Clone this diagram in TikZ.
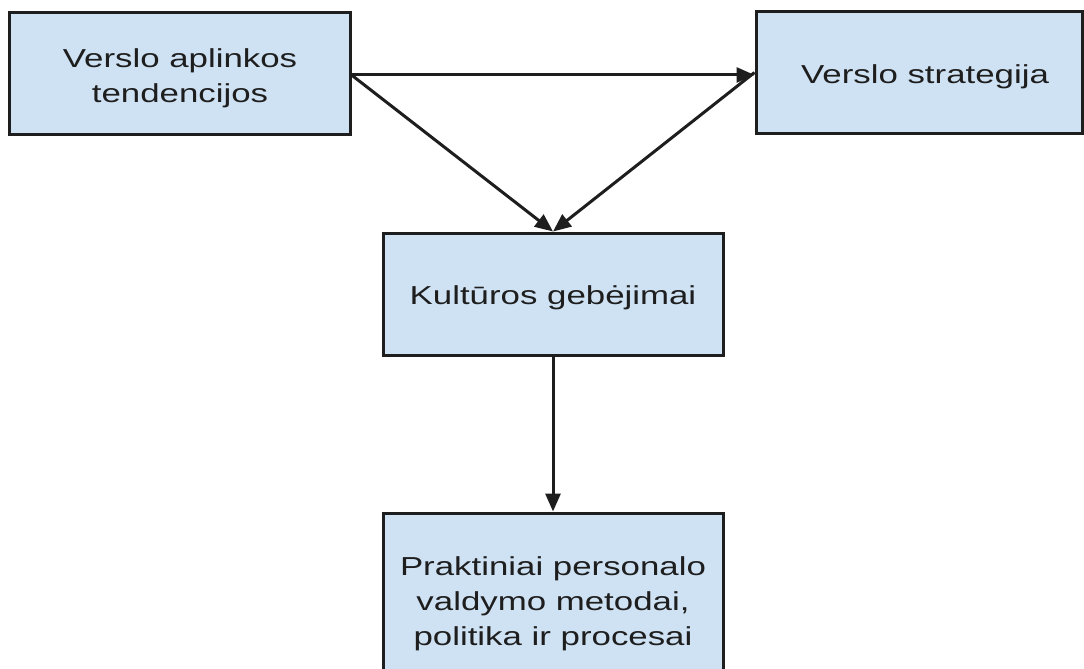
\documentclass[tikz,border=0pt]{standalone}
\usepackage{fontspec}
\setmainfont[FakeStretch=1.34]{Liberation Sans}
\usetikzlibrary{arrows.meta}
\definecolor{boxfill}{HTML}{CFE2F3}
\definecolor{ink}{HTML}{1E1E1E}
\begin{document}
\begin{tikzpicture}[x=1pt,y=-1pt,
  box/.style={draw=ink, line width=3pt, fill=boxfill, inner sep=0pt},
  lbl/.style={text=ink, align=center, inner sep=0pt, font=\fontsize{26}{35}\selectfont},
  conn/.style={draw=ink, line width=3pt, -{Triangle[length=18pt,width=15pt]}}]
\useasboundingbox (0,0) rectangle (1084,669);
\clip (0,0) rectangle (1084,669);
\fill[white] (0,0) rectangle (1084,669);
\node[box, minimum width=341pt, minimum height=121pt] (b1) at (179.5,73.5) {};
\node[box, minimum width=326pt, minimum height=121pt] (b2) at (919,72.5) {};
\node[box, minimum width=340pt, minimum height=122pt] (b3) at (553,294) {};
\node[box, minimum width=340pt, minimum height=164pt] (b4) at (553,595) {};
\node[lbl] (t1) at (180,78) {Verslo aplinkos\\tendencijos};
\node[lbl] (t2) at (925,77) {Verslo strategija};
\node[lbl] (t3) at (553,298) {Kultūros gebėjimai};
\node[lbl] (t4) at (553,604) {Praktiniai personalo\\valdymo metodai,\\politika ir procesai};
\coordinate (s1) at ([yshift=-1.5pt]b1.east);
\draw[conn] (s1) -- (s1 -| b2.west);
\draw[conn] (s1) -- (b3.north);
\draw[conn] (b2.west) -- (b3.north);
\draw[conn] (b3.south) -- (b4.north);
\end{tikzpicture}
\end{document}
